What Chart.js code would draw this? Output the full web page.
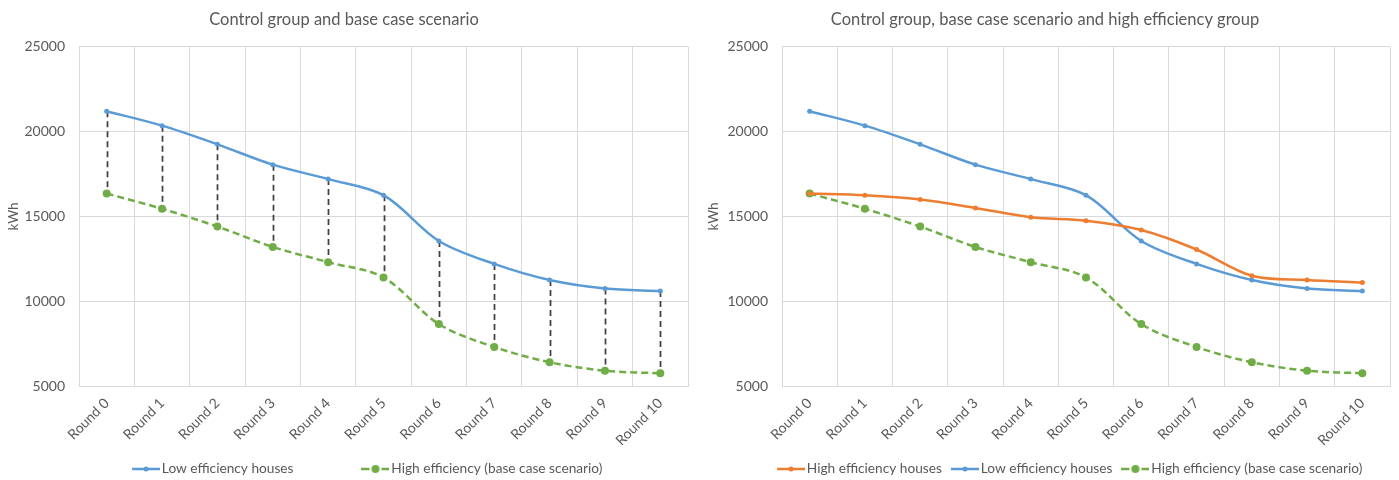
<!DOCTYPE html>
<html><head><meta charset="utf-8">
<script src="https://cdn.jsdelivr.net/npm/chart.js@4"></script>
<style>
html,body{margin:0;padding:0;background:#fff;}
#c1{position:absolute;left:0;top:0;}
#c2{position:absolute;left:700px;top:0;}
</style></head><body>
<canvas id="c1" width="700" height="480"></canvas>
<canvas id="c2" width="699" height="480"></canvas>
<script>
// ---- data ----
const rounds = ['Round 0','Round 1','Round 2','Round 3','Round 4','Round 5','Round 6','Round 7','Round 8','Round 9','Round 10'];
const lowEfficiencyHouses = [21200, 20350, 19250, 18050, 17200, 16250, 13550, 12200, 11250, 10750, 10600];
const highEfficiencyBase = [16350, 15450, 14400, 13200, 12300, 11400, 8650, 7300, 6400, 5900, 5750];
const highEfficiencyHouses = [16350, 16250, 16000, 15500, 14950, 14750, 14200, 13050, 11500, 11250, 11100];
const yTickValues = [5000, 10000, 15000, 20000, 25000];
const titleLeft = 'Control group and base case scenario';
const titleRight = 'Control group, base case scenario and high efficiency group';
const labelLow = 'Low efficiency houses';
const labelBase = 'High efficiency (base case scenario)';
const labelHigh = 'High efficiency houses';
const yTitle = 'kWh';

// ---- styles ----
const BLUE = '#5B9BD5', ORANGE = '#ED7D31', GREEN = '#70AD47', TEXT = '#595959', GRID = '#D9D9D9';
const FONT = 'Lato, "Open Sans", sans-serif';
const LEG_FONT = 13.7;

function symbol(color, r, dashed) {
  const c = document.createElement('canvas');
  c.width = 28; c.height = 10;
  const g = c.getContext('2d');
  g.strokeStyle = color; g.lineWidth = 2.5;
  g.beginPath();
  if (dashed) { g.moveTo(0,5); g.lineTo(8,5); g.moveTo(20,5); g.lineTo(28,5); }
  else { g.moveTo(0,5); g.lineTo(28,5); }
  g.stroke();
  g.fillStyle = color;
  g.beginPath(); g.arc(14,5,r,0,Math.PI*2); g.fill();
  return c;
}

const dropLines = {
  id: 'dropLines',
  beforeDatasetsDraw(chart, args, opts) {
    if (!opts || !opts.enabled) return;
    const ctx = chart.ctx, x = chart.scales.x, y = chart.scales.y;
    const a = chart.data.datasets[opts.from].data, b = chart.data.datasets[opts.to].data;
    ctx.save();
    ctx.strokeStyle = '#404040'; ctx.lineWidth = 1.75; ctx.setLineDash([6,4]);
    a.forEach((v, i) => {
      const px = Math.round(x.getPixelForValue(i)) + 0.5;
      ctx.beginPath();
      ctx.moveTo(px, y.getPixelForValue(v));
      ctx.lineTo(px, y.getPixelForValue(b[i]));
      ctx.stroke();
    });
    ctx.restore();
  }
};

const legendPlace = {
  id: 'legendPlace',
  afterLayout(chart, args, opts) {
    const lg = chart.legend;
    if (!lg || !opts || opts.startX === undefined) return;
    const P = lg.options.labels.padding;
    const start = (lg.left + P + lg.right - lg.lineWidths[0]) / 2;
    const dx = opts.startX - start;
    lg.left += dx; lg.right += dx;
    lg.top = opts.centerY - P - LEG_FONT / 2;
    lg.bottom = Math.max(lg.top + P + 30, 480);
    lg.height = lg.bottom - lg.top;
  }
};

function lineDs(label, data, color, radius, dashed) {
  return {
    label, data,
    borderColor: color, backgroundColor: color,
    pointBackgroundColor: color, pointBorderColor: color,
    pointRadius: radius, pointBorderWidth: 0, pointHoverRadius: radius,
    borderWidth: 2.5, borderDash: dashed ? [7,4] : [],
    tension: 0.33, fill: false, clip: false,
    _sym: symbol(color, radius >= 4 ? 4 : 2.5, dashed)
  };
}

function makeChart(id, title, datasets, cfg) {
  return new Chart(document.getElementById(id), {
    type: 'line',
    data: { labels: rounds, datasets },
    plugins: [dropLines, legendPlace],
    options: {
      responsive: false, animation: false,
      layout: { padding: { left: 0, right: cfg.padRight, top: 0, bottom: 0 } },
      plugins: {
        title: { display: true, text: title, color: TEXT,
          font: { family: FONT, size: 16.5, weight: 'normal', lineHeight: 1.2 },
          padding: { top: 10, bottom: 17 } },
        legend: {
          position: 'bottom', maxHeight: 30,
          labels: {
            color: TEXT, font: { family: FONT, size: LEG_FONT }, padding: cfg.legendPad,
            usePointStyle: true, pointStyleWidth: 18,
            generateLabels: (chart) => chart.data.datasets.map((ds, i) => ({
              text: ds.label, pointStyle: ds._sym, fillStyle: ds.borderColor,
              strokeStyle: ds.borderColor, lineWidth: 0, hidden: false,
              datasetIndex: i, fontColor: TEXT
            }))
          }
        },
        tooltip: { enabled: false },
        dropLines: cfg.drop,
        legendPlace: cfg.legendPos
      },
      scales: {
        x: {
          offset: true,
          grid: { color: GRID, offset: true, drawTicks: false },
          border: { color: GRID },
          ticks: { color: TEXT, font: { family: FONT, size: 14 }, minRotation: 45, maxRotation: 45, autoSkip: false, padding: 9 },
          afterFit: s => { s.height = 64; }
        },
        y: {
          min: 5000, max: 25000,
          afterBuildTicks: s => { s.ticks = yTickValues.map(v => ({ value: v })); },
          grid: { color: GRID, drawTicks: false },
          border: { color: GRID },
          ticks: { color: TEXT, font: { family: FONT, size: 14 }, padding: 14, callback: v => String(v) },
          title: { display: true, text: yTitle, color: TEXT, font: { family: FONT, size: 13.5 }, padding: { top: 6, bottom: 0 } },
          afterFit: s => { s.width = cfg.yWidth; }
        }
      }
    }
  });
}

makeChart('c1', titleLeft, [
  lineDs(labelLow, lowEfficiencyHouses, BLUE, 2.5, false),
  lineDs(labelBase, highEfficiencyBase, GREEN, 4, true)
], { padRight: 12, yWidth: 79, legendPad: 73, drop: { enabled: true, from: 0, to: 1 }, legendPos: { startX: 137, centerY: 469 } });

makeChart('c2', titleRight, [
  lineDs(labelHigh, highEfficiencyHouses, ORANGE, 2.5, false),
  lineDs(labelLow, lowEfficiencyHouses, BLUE, 2.5, false),
  lineDs(labelBase, highEfficiencyBase, GREEN, 4, true)
], { padRight: 9, yWidth: 82, legendPad: 14, drop: { enabled: false }, legendPos: { startX: 82, centerY: 469 } });
</script>
</body></html>
